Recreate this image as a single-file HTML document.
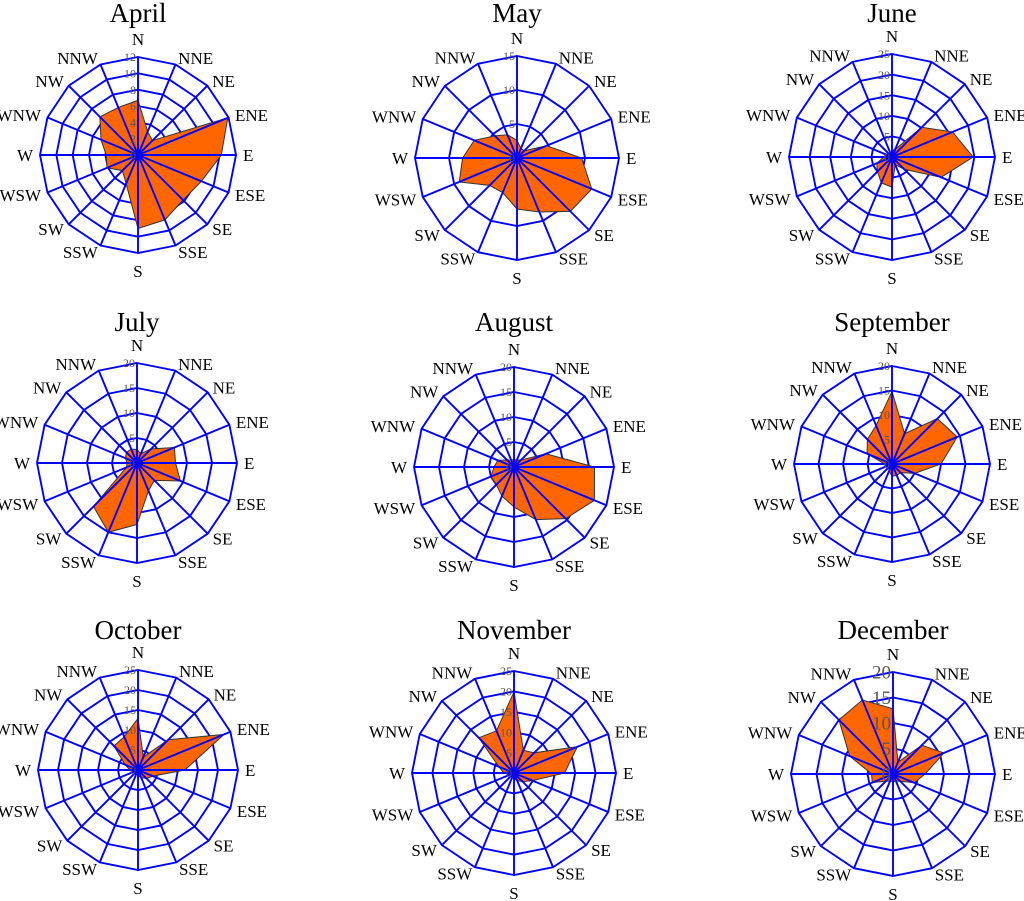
<!DOCTYPE html>
<html><head><meta charset="utf-8"><style>
html,body{margin:0;padding:0;background:#fff}
svg{display:block}
text{font-family:"Liberation Serif",serif}
</style></head><body>
<svg id="chart" width="1024" height="901" viewBox="0 0 1024 901"></svg>
<script>
const directions = ["N","NNE","NE","ENE","E","ESE","SE","SSE","S","SSW","SW","WSW","W","WNW","NW","NNW"];
const months = ["April","May","June","July","August","September","October","November","December"];
const aprilValues = [6.7,3.1,2.5,11.9,10.2,8.4,7.8,8.6,9.0,3.8,2.7,4.1,3.9,4.9,6.6,6.3];
const mayValues = [2.6,1.5,1.5,4.7,9.5,11.9,11.1,8.6,7.5,5.5,5.7,9.2,8.0,6.8,4.6,3.7];
const juneValues = [1.5,2,10.2,15.9,19.7,12.9,4.2,2,7.3,6.8,5,4,2,1.5,1,1];
const julyValues = [2.7,2,4,8.1,7.7,9.4,4.9,6,12.3,15,12.3,2.3,2,2.5,3,3];
const augustValues = [1.5,1.5,2,6.9,16.1,17.4,14.6,11.4,8,6.3,5,5,4,3.5,2,1.5];
const septemberValues = [14.8,6.7,13.1,14.4,10,5,2.5,2.5,2.5,1.5,1,1,1.5,5.5,7.1,8.5];
const octoberValues = [12.9,3.5,10.7,23.3,11.7,4,3,2,1.5,1,1,1,2,3.5,8.5,9];
const novemberValues = [19.9,6,7,16.8,12.4,4.9,3,2,1.5,1,1,1,2.5,4,12.2,11.2];
const decemberValues = [12.8,2.5,8,10.8,6.3,4.5,2,1.5,1.5,1.5,2,4.4,4.2,9.2,15,15.7];
const seriesValues = [aprilValues,mayValues,juneValues,julyValues,augustValues,septemberValues,octoberValues,novemberValues,decemberValues];
const axisMax = [12,15,25,20,20,20,25,25,20];
const tickStep = [2,5,5,5,5,5,5,5,5];

const layout = [
 {cx:138,cy:155,R:98,ty:22},{cx:517,cy:158,R:102,ty:22},{cx:892,cy:157,R:103,ty:22},
 {cx:137,cy:463,R:100,ty:331},{cx:514,cy:467,R:100,ty:331},{cx:892,cy:464,R:98,ty:331},
 {cx:138,cy:770,R:100,ty:639},{cx:514,cy:773,R:102,ty:639},{cx:893,cy:774,R:102,ty:639}
];
const NS="http://www.w3.org/2000/svg";
const svg=document.getElementById('chart');
function mk(tag,attrs,parent){const e=document.createElementNS(NS,tag);for(const k in attrs)e.setAttribute(k,attrs[k]);parent.appendChild(e);return e;}

months.forEach((m,i)=>{
  const L=layout[i], vals=seriesValues[i], max=axisMax[i], step=tickStep[i];
  const rScale=v=>v/max*L.R;
  const pt=(k,r)=>{const a=k*Math.PI*2/16;return [L.cx+r*Math.sin(a),L.cy-r*Math.cos(a)];};
  const g=mk('g',{},svg);
  
  
  const t=mk('text',{x:L.cx,y:L.ty,'text-anchor':'middle','font-size':27,fill:'#000'},g);
  t.textContent=m;
  
  
  // rings
  for(let v=step;v<=max+1e-9;v+=step){
    const ring=mk('polygon',{points:directions.map((d,k)=>pt(k,rScale(v)).join(',')).join(' '),fill:'none',stroke:'#0000ff','stroke-width':1.9},g);
    
    
  }
  // filled polygon
  const poly=mk('polygon',{points:vals.map((v,k)=>pt(k,rScale(v)).join(',')).join(' '),fill:'#ff6600',stroke:'#333','stroke-width':1},g);
  
  
  // spokes
  directions.forEach((d,k)=>{
    const p=pt(k,L.R);
    const sp=mk('line',{x1:L.cx,y1:L.cy,x2:p[0],y2:p[1],stroke:'#0000ff','stroke-width':1.9},g);
    
    
    const a=k*Math.PI*2/16, s=Math.sin(a), c=Math.cos(a);
    let lx=L.cx+(L.R+7)*s, ly=L.cy-(L.R+7)*c;
    if(Math.abs(s)<0.1) ly=L.cy-(L.R+18)*c;
    const anchor=s>0.1?'start':(s<-0.1?'end':'middle');
    const lt=mk('text',{x:lx,y:ly+6,'text-anchor':anchor,'font-size':17,fill:'#000'},g);
    lt.textContent=d;
    
    
  });
  const dot=mk('circle',{cx:L.cx,cy:L.cy,r:5,fill:'#0000ff'},g);
  
  
  // tick labels
  const fs=i===8?19:12;
  for(let v=0;v<=max+1e-9;v+=step){
    const tk=mk('text',{x:L.cx-2,y:L.cy-rScale(v)+fs*0.35,'text-anchor':'end','font-size':fs,fill:'#555'},g);
    tk.textContent=String(v);
    
    
  }
});
</script>
</body></html>
